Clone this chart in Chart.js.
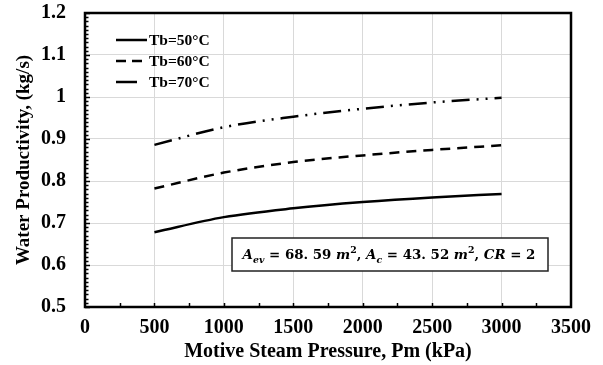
<!DOCTYPE html>
<html>
<head>
<meta charset="utf-8">
<script src="https://cdn.jsdelivr.net/npm/chart.js@4/dist/chart.umd.min.js"></script>
<style>
    html, body { margin: 0; padding: 0; background: #fff; }
    #wrap { width: 603px; height: 365px; }
</style>
</head>
<body>
<div id="wrap"><canvas id="chart"></canvas></div>
<script>
var pressure = [500, 1000, 1500, 2000, 2500, 3000];
var tb50 = [0.678, 0.714, 0.735, 0.750, 0.761, 0.769];
var tb60 = [0.782, 0.820, 0.845, 0.861, 0.874, 0.885];
var tb70 = [0.886, 0.928, 0.953, 0.972, 0.987, 0.998];
var seriesLabels = ['Tb=50\u00B0C', 'Tb=60\u00B0C', 'Tb=70\u00B0C'];
var xTicks = [0, 500, 1000, 1500, 2000, 2500, 3000, 3500];
var yTicks = [0.5, 0.6, 0.7, 0.8, 0.9, 1.0, 1.1, 1.2];

var SERIF = '"Liberation Serif", "DejaVu Serif", serif';
var MATH = '"DejaVu Serif", "Liberation Serif", serif';

function toPoints(values) {
    return values.map(function (v, i) { return { x: pressure[i], y: v }; });
}

// frame, inward ticks, legend and note box
var decorPlugin = {
    id: 'decor',
    afterDraw: function (chart) {
        var ctx = chart.ctx;
        var a = chart.chartArea;
        var xs = chart.scales.x, ys = chart.scales.y;
        ctx.save();
        ctx.strokeStyle = '#000';

        // y minor ticks every 0.01
        ctx.lineWidth = 1.5;
        for (var k = 50; k <= 120; k++) {
            var py = Math.round(ys.getPixelForValue(k / 100)) + 0.5;
            var len = (k % 10 === 0) ? 5 : 3.5;
            ctx.beginPath();
            ctx.moveTo(a.left, py);
            ctx.lineTo(a.left + len, py);
            ctx.stroke();
        }
        // x ticks every 250
        for (var v = 250; v < 3500; v += 250) {
            var px = Math.round(xs.getPixelForValue(v)) + 0.5;
            ctx.beginPath();
            ctx.moveTo(px, a.bottom);
            ctx.lineTo(px, a.bottom - 4);
            ctx.stroke();
        }

        // frame
        ctx.lineWidth = 2.5;
        ctx.strokeRect(a.left, a.top, a.right - a.left, a.bottom - a.top);

        // legend
        var ly = [40, 61, 82];
        chart.data.datasets.forEach(function (ds, i) {
            ctx.lineWidth = 2.5;
            ctx.setLineDash(i === 1 ? [10, 6] : []);
            ctx.beginPath();
            ctx.moveTo(116, ly[i]);
            ctx.lineTo(i === 2 ? 137 : 147, ly[i]);
            ctx.stroke();
            ctx.setLineDash([]);
            ctx.fillStyle = '#000';
            ctx.font = 'bold 15.5px ' + SERIF;
            ctx.textBaseline = 'middle';
            ctx.textAlign = 'left';
            ctx.fillText(ds.label, 149, ly[i] + 1);
        });

        // note box
        ctx.fillStyle = '#fff';
        ctx.fillRect(232, 238, 316, 33);
        ctx.lineWidth = 1.5;
        ctx.strokeStyle = '#222';
        ctx.strokeRect(232, 238, 316, 33);

        var parts = [
            ['A', 'bi', 0], ['ev', 'bis', 4], [' = 68. 59 ', 'b', 0], ['m', 'bi', 0], ['2', 'bs', -6],
            [', ', 'b', 0], ['A', 'bi', 0], ['c', 'bis', 4], [' = 43. 52 ', 'b', 0], ['m', 'bi', 0],
            ['2', 'bs', -6], [', ', 'b', 0], ['CR', 'bi', 0], [' = 2', 'b', 0]
        ];
        var base = 15;
        function fontFor(style) {
            var size = style.indexOf('s') >= 0 ? base * 0.7 : base;
            var it = style.indexOf('i') >= 0 ? 'italic ' : '';
            return it + 'bold ' + size + 'px ' + MATH;
        }
        var total = 0;
        parts.forEach(function (p) { ctx.font = fontFor(p[1]); total += ctx.measureText(p[0]).width; });
        base = base * 293 / total;
        total = 0;
        parts.forEach(function (p) { ctx.font = fontFor(p[1]); total += ctx.measureText(p[0]).width; });
        var tx = 389 - total / 2;
        ctx.fillStyle = '#000';
        ctx.textBaseline = 'alphabetic';
        parts.forEach(function (p) {
            ctx.font = fontFor(p[1]);
            ctx.fillText(p[0], tx, 259 + p[2]);
            tx += ctx.measureText(p[0]).width;
        });
        ctx.restore();
    }
};

new Chart(document.getElementById('chart'), {
    type: 'line',
    data: {
        datasets: [{
            label: seriesLabels[0],
            data: toPoints(tb50),
            borderColor: '#000',
            borderWidth: 2.5,
            pointRadius: 0,
            cubicInterpolationMode: 'monotone',
            fill: false
        }, {
            label: seriesLabels[1],
            data: toPoints(tb60),
            borderColor: '#000',
            borderWidth: 2.5,
            borderDash: [10, 7],
            pointRadius: 0,
            cubicInterpolationMode: 'monotone',
            fill: false
        }, {
            label: seriesLabels[2],
            data: toPoints(tb70),
            borderColor: '#000',
            borderWidth: 2.5,
            borderDash: [18, 7, 2, 7, 2, 7],
            pointRadius: 0,
            cubicInterpolationMode: 'monotone',
            fill: false
        }]
    },
    plugins: [decorPlugin],
    options: {
        responsive: true,
        maintainAspectRatio: false,
        animation: false,
        layout: { padding: { top: 13, right: 32, left: 0, bottom: 0 } },
        plugins: {
            legend: { display: false },
            tooltip: { enabled: false }
        },
        scales: {
            x: {
                type: 'linear',
                min: 0,
                max: 3500,
                afterBuildTicks: function (scale) {
                    scale.ticks = xTicks.map(function (v) { return { value: v }; });
                },
                afterFit: function (scale) {
                    scale.height = 58;
                    scale.paddingLeft = 0;
                    scale.paddingRight = 0;
                },
                ticks: {
                    color: '#000',
                    padding: 9,
                    maxRotation: 0,
                    font: { family: SERIF, size: 20, weight: 'bold' },
                    callback: function (v) { return String(v); }
                },
                grid: { color: '#d9d9d9', lineWidth: 1, drawTicks: false },
                border: { display: false },
                title: {
                    display: true,
                    text: 'Motive Steam Pressure, Pm (kPa)',
                    color: '#000',
                    padding: { top: 4, bottom: 1 },
                    font: { family: SERIF, size: 20, weight: 'bold' }
                }
            },
            y: {
                min: 0.5,
                max: 1.2,
                afterBuildTicks: function (scale) {
                    scale.ticks = yTicks.map(function (v) { return { value: v }; });
                },
                afterFit: function (scale) {
                    scale.width = 85;
                    scale.paddingTop = 0;
                    scale.paddingBottom = 0;
                },
                ticks: {
                    color: '#000',
                    padding: 19,
                    font: { family: SERIF, size: 20, weight: 'bold' },
                    callback: function (v) { return String(Math.round(v * 10) / 10); }
                },
                grid: { color: '#d9d9d9', lineWidth: 1, drawTicks: false },
                border: { display: false },
                title: {
                    display: true,
                    text: 'Water Productivity, (kg/s)',
                    color: '#000',
                    padding: { top: 13, bottom: 2 },
                    font: { family: SERIF, size: 19, weight: 'bold' }
                }
            }
        }
    }
});
</script>
</body>
</html>
